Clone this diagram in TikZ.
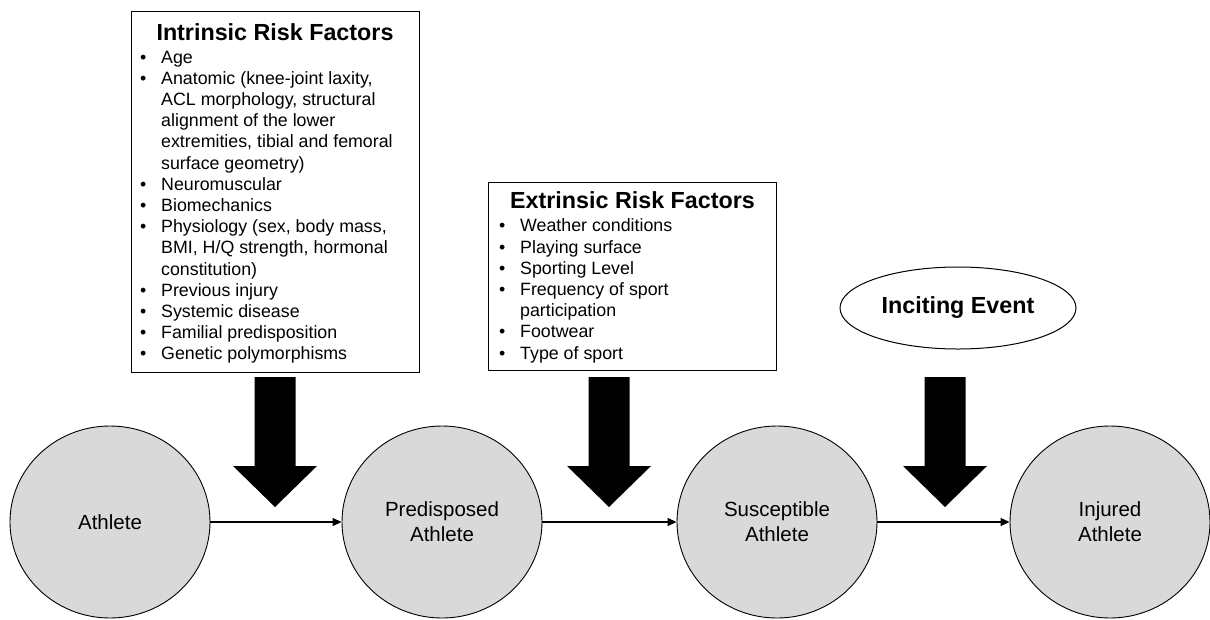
\documentclass[tikz,border=0pt]{standalone}
\usepackage{fontspec}
\setmainfont{Liberation Sans}
\usetikzlibrary{arrows.meta,shapes.geometric}

\definecolor{stategray}{HTML}{D9D9D9}

% one bulleted entry; \contline continues it on the next line
\newcommand{\riskitem}[1]{\makebox[21pt][l]{\textbullet}#1}
\newcommand{\contline}[1]{\hspace*{21pt}#1}

\begin{document}
\begin{tikzpicture}[x=1pt,y=-1pt,
  state/.style={ellipse, draw=black, line width=0.9pt, fill=stategray,
    minimum width=200pt, minimum height=192pt, inner sep=0pt,
    align=center, font=\fontsize{20.5}{25}\selectfont},
  factorbox/.style={rectangle, draw=black, line width=1pt, fill=white,
    inner sep=0pt},
  boxtitle/.style={font=\fontsize{23.3}{28}\selectfont\bfseries, inner sep=0pt},
  factorlist/.style={align=left, inner sep=0pt,
    font=\fontsize{17.8}{21.2}\selectfont},
  event/.style={ellipse, draw=black, line width=1pt, fill=white,
    minimum width=236pt, minimum height=82pt, inner sep=0pt,
    font=\fontsize{23.3}{28}\selectfont\bfseries},
  flow/.style={draw=black, line width=1.1pt,
    -{Triangle[length=9pt,width=8pt]}},
  blockarrow/.pic={\fill[black] (-20.5,0) -- (20.5,0) -- (20.5,89) -- (42,89)
    -- (0,130) -- (-42,89) -- (-20.5,89) -- cycle;}
]
\useasboundingbox (0,0) rectangle (1210,619);

% intrinsic risk factors (list placed by the baseline of its last line)
\node[factorbox, minimum width=288pt, minimum height=361pt] (intr) at (275,191.5) {};
\node[boxtitle, anchor=base] (intrtitle) at (275,40) {Intrinsic Risk Factors};
\node[factorlist, anchor=base west] (intrlist) at (140,359.8) {%
\riskitem{Age}\\
\riskitem{Anatomic (knee-joint laxity,}\\
\contline{ACL morphology, structural}\\
\contline{alignment of the lower}\\
\contline{extremities, tibial and femoral}\\
\contline{surface geometry)}\\
\riskitem{Neuromuscular}\\
\riskitem{Biomechanics}\\
\riskitem{Physiology (sex, body mass,}\\
\contline{BMI, H/Q strength, hormonal}\\
\contline{constitution)}\\
\riskitem{Previous injury}\\
\riskitem{Systemic disease}\\
\riskitem{Familial predisposition}\\
\riskitem{Genetic polymorphisms}};

% extrinsic risk factors
\node[factorbox, minimum width=288pt, minimum height=188pt] (extr) at (632,276) {};
\node[boxtitle, anchor=base] (extrtitle) at (632.5,208) {Extrinsic Risk Factors};
\node[factorlist, anchor=base west] (extrlist) at (499,359) {%
\riskitem{Weather conditions}\\
\riskitem{Playing surface}\\
\riskitem{Sporting Level}\\
\riskitem{Frequency of sport}\\
\contline{participation}\\
\riskitem{Footwear}\\
\riskitem{Type of sport}};

% inciting event
\node[event] (incite) at (958,308) {Inciting Event};

% athlete states
\node[state] (athlete) at (110,522) {Athlete};
\node[state] (predisposed) at (442,522) {Predisposed\\Athlete};
\node[state] (susceptible) at (777,522) {Susceptible\\Athlete};
\node[state] (injured) at (1110,522) {Injured\\Athlete};

% progression
\draw[flow] (athlete.east) -- (predisposed.west);
\draw[flow] (predisposed.east) -- (susceptible.west);
\draw[flow] (susceptible.east) -- (injured.west);

% influences acting on each transition
\pic at (275,377) {blockarrow};
\pic at (609,377) {blockarrow};
\pic at (945,377) {blockarrow};
\end{tikzpicture}
\end{document}
